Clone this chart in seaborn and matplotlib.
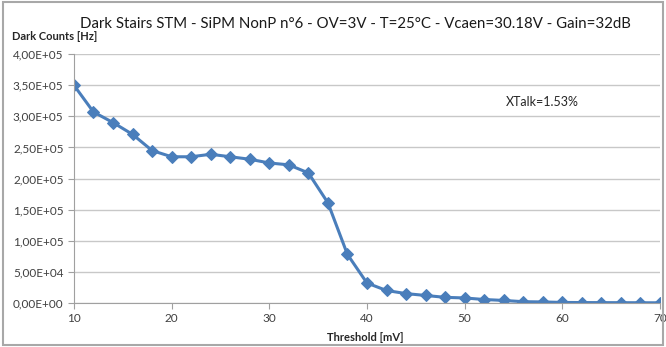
"""Dark count staircase for a SiPM, recreated with seaborn."""

import matplotlib.pyplot as plt
import pandas as pd
import seaborn as sns
from matplotlib.ticker import FuncFormatter

threshold_mv = [10, 12, 14, 16, 18, 20, 22, 24, 26, 28, 30, 32, 34, 36, 38, 40,
                42, 44, 46, 48, 50, 52, 54, 56, 58, 60, 62, 64, 66, 68, 70]
dark_counts_hz = [3.50e5, 3.07e5, 2.90e5, 2.71e5, 2.45e5, 2.35e5, 2.35e5, 2.39e5,
                  2.35e5, 2.31e5, 2.25e5, 2.22e5, 2.09e5, 1.61e5, 0.78e5, 0.32e5,
                  0.20e5, 0.15e5, 0.12e5, 0.09e5, 0.08e5, 0.055e5, 0.04e5, 0.02e5,
                  0.016e5, 0.008e5, 0.006e5, 0.005e5, 0.004e5, 0.003e5, 0.002e5]
title = "Dark Stairs STM - SiPM NonP n°6 - OV=3V - T=25°C - Vcaen=30.18V - Gain=32dB"
annotation = "XTalk=1.53%"

df = pd.DataFrame({"Threshold": threshold_mv, "Counts": dark_counts_hz})

sns.set_style("white")
plt.rcParams["font.family"] = ["Lato", "DejaVu Sans"]

fig = plt.figure(figsize=(6.66, 3.47), dpi=100)
ax = fig.add_axes([0.111, 0.127, 0.88, 0.717])

sns.lineplot(data=df, x="Threshold", y="Counts", ax=ax, color="#4a7ebb",
             linewidth=2.2, marker="D", markersize=6.5, markeredgecolor="#4a7ebb")

ax.set_xlim(10, 70)
ax.set_ylim(0, 4.0e5)
ax.set_xticks(range(10, 71, 10))
ax.set_yticks([i * 0.5e5 for i in range(9)])


def excel_sci(v, _pos):
    s = f"{v:.2E}".replace(".", ",")
    return s


ax.yaxis.set_major_formatter(FuncFormatter(excel_sci))
ax.tick_params(axis="both", labelsize=8.5, colors="#404040", length=4,
               direction="out", left=True, bottom=True, color="#a0a0a0")
ax.grid(axis="y", color="#c8c8c8", linewidth=1)
for side in ["top", "right"]:
    ax.spines[side].set_visible(False)
for side in ["left", "bottom"]:
    ax.spines[side].set_color("#a0a0a0")
ax.set_xlabel("")
ax.set_ylabel("")

fig.text(0.533, 0.93, title, ha="center", va="center", fontsize=10.8, color="#1a1a1a")
fig.text(0.018, 0.895, "Dark Counts [Hz]", ha="left", va="center", fontsize=8,
         fontweight="bold", color="#262626")
fig.text(0.548, 0.028, "Threshold [mV]", ha="center", va="center", fontsize=8,
         fontweight="bold", color="#262626")
ax.text(0.737, 0.79, annotation, transform=ax.transAxes, fontsize=9, color="#262626")

# grey frame round the chart
fig.patches.append(plt.Rectangle((0.004, 0.006), 0.992, 0.988, transform=fig.transFigure,
                                 fill=False, edgecolor="#a8a8a8", linewidth=1.5))

fig.savefig("out.png", dpi=100)
